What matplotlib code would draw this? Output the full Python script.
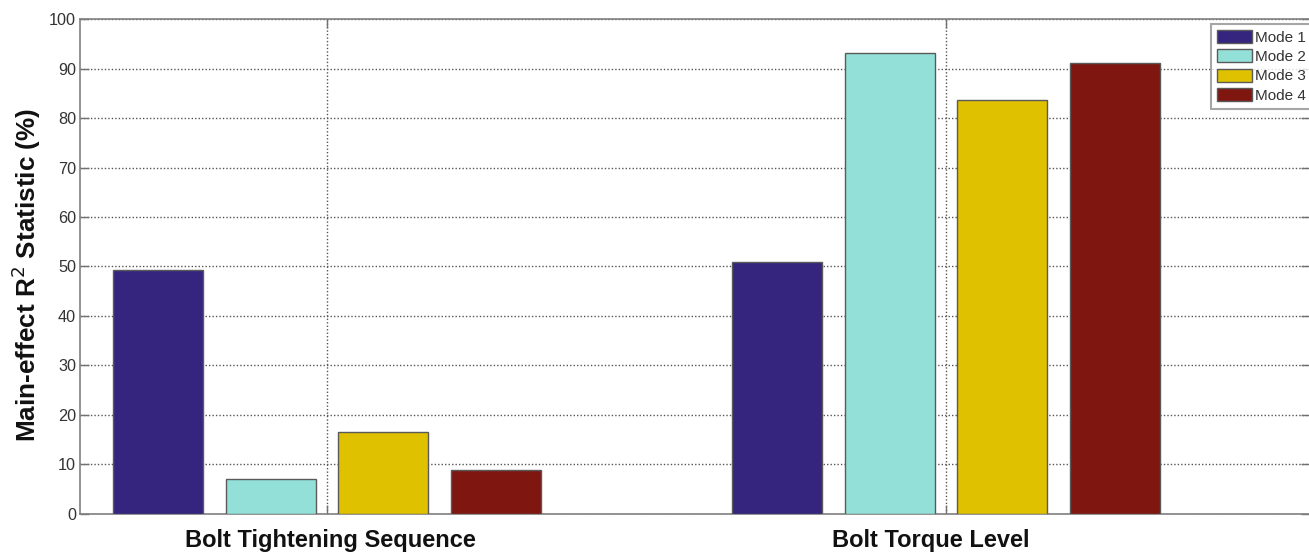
import matplotlib
matplotlib.use("Agg")
import matplotlib.pyplot as plt
import numpy as np

plt.rcParams['font.family'] = ['Liberation Sans', 'DejaVu Sans']

# Main-effect R^2 statistics (%) for each factor and vibration mode
factors = ["Bolt Tightening Sequence", "Bolt Torque Level"]
modes = ["Mode 1", "Mode 2", "Mode 3", "Mode 4"]
mode1 = [49.2, 50.9]
mode2 = [6.9, 93.2]
mode3 = [16.5, 83.6]
mode4 = [8.9, 91.2]
series = [mode1, mode2, mode3, mode4]
colors = ["#36257f", "#93e0d8", "#e0c100", "#7f1710"]
yticks = list(range(0, 101, 10))

W, H = 1309, 553
fig = plt.figure(figsize=(W / 100, H / 100), dpi=100)
ax = fig.add_axes([80 / W, (H - 513.5) / H, (1310 - 80) / W, (513.5 - 19.3) / H])

x = np.arange(1, len(factors) + 1)
n = len(series)
group_w = min(0.8, n / (n + 1.5))
step = group_w / n
bar_w = step * 0.8
for i, (vals, col, lab) in enumerate(zip(series, colors, modes)):
    ax.bar(x + (i - (n - 1) / 2) * step, vals, width=bar_w, color=col,
           edgecolor="#5a5a5a", linewidth=1.0, label=lab, zorder=3)

ax.set_xlim(0.601, 2.588)
ax.set_ylim(0, 100)
ax.set_yticks(yticks)
ax.set_xticks(x)
ax.set_xticklabels([])

ax.grid(True, color="#555555", linestyle=(0, (1, 1.5)), linewidth=1.0, zorder=1)
ax.set_axisbelow(True)
ax.tick_params(axis="both", direction="in", length=6.5, width=1.0, color="#707070",
               top=True, right=True, labelsize=11.7, labelcolor="#333333", pad=2.9)
for s in ax.spines.values():
    s.set_color("#808080")
    s.set_linewidth(1.2)

for xi, name, dx in zip(x, factors, [0.005, -0.024]):
    ax.text(xi + dx, -3.2, name, ha="center", va="top", fontsize=17,
            fontweight="bold", color="#111111")

ax.set_ylabel("Main-effect R$^2$ Statistic (%)", fontsize=18.8, fontweight="bold",
              color="#111111")
ax.yaxis.set_label_coords(-0.030, 0.4836)

leg = ax.legend(loc="upper left", bbox_to_anchor=(1211 / W, 1 - 24 / H),
                bbox_transform=fig.transFigure, borderaxespad=0, fontsize=11,
                frameon=True, fancybox=False, handlelength=2.29, handleheight=0.92,
                handletextpad=0.2, labelspacing=0.3, borderpad=0.4)
leg.get_frame().set_edgecolor("#909090")
leg.get_frame().set_linewidth(1.5)
for t in leg.get_texts():
    t.set_color("#333333")

fig.savefig("out.png", dpi=100)
